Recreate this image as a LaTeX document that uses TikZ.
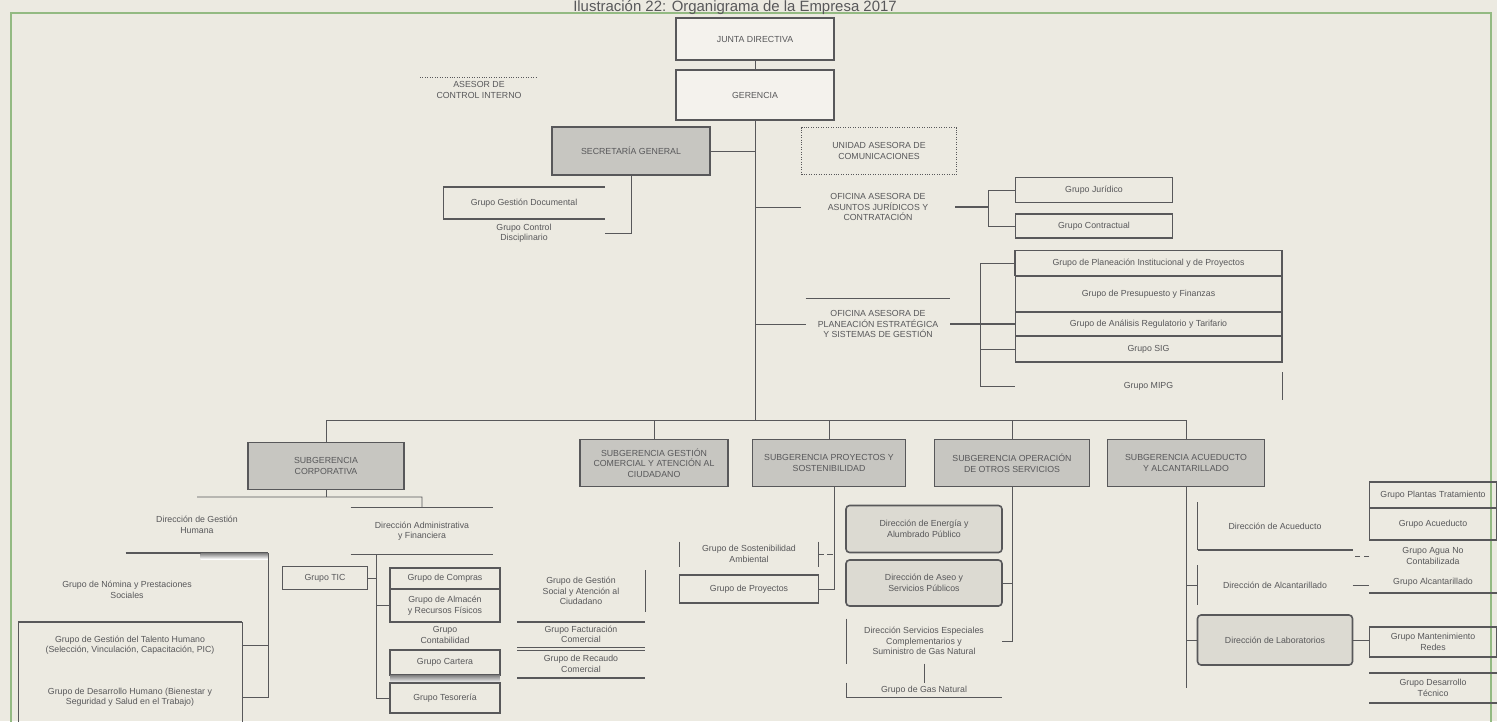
\documentclass[tikz,border=0pt]{standalone}
\usepackage{fontspec}
\setmainfont{Liberation Sans}
\usetikzlibrary{positioning,calc}
\definecolor{paper}{HTML}{ECEAE1}
\definecolor{ink}{HTML}{58585A}
\definecolor{shade}{HTML}{C7C6C1}
\definecolor{frame}{HTML}{93BA82}
\tikzset{
  lbl/.style={font=\fontsize{5}{6}\selectfont, text=ink, align=center, inner sep=0pt, outer sep=0pt},
  box/.style={lbl, draw=ink, line width=0.6pt},
  hdr/.style={box, fill=shade, line width=0.8pt},
  topbox/.style={box, fill=paper!60!white, line width=0.9pt},
  dir/.style={box, rounded corners=2pt, line width=0.9pt, fill=paper!85!gray},
  ln/.style={draw=ink, line width=0.5pt},
  tk/.style={draw=ink, line width=1pt},
}

\begin{document}
\begin{tikzpicture}[x=0.02cm, y=-0.02cm]
\useasboundingbox (0,0) rectangle (1497,721);
\clip (0,0) rectangle (1497,721);
\fill[paper] (0,0) rectangle (1497,721);
\draw[frame, line width=1.2pt] (11,13) rectangle (1491,740);
\node[lbl, font=\fontsize{8.5}{10}\selectfont, anchor=base] (ttl) at (735,11) {Ilustración 22: Organigrama de la Empresa 2017};

% direccion
\node[topbox, minimum width=3.16cm, minimum height=0.84cm] (jd) at (755,39) {JUNTA DIRECTIVA};
\node[topbox, minimum width=3.16cm, minimum height=1cm, line width=1.1pt] (ger) at (755,95) {GERENCIA};
\draw[ln] (jd) -- (ger);
\node[lbl, minimum width=2.36cm, minimum height=0.5cm] (ci) at (479,90) {ASESOR DE\\CONTROL INTERNO};
\draw[ink, densely dotted] (ci.north west) -- (ci.north east);
\coordinate (bus) at (755,420);
\draw[ln] (ger) -- (bus);

% secretaria y oficinas asesoras
\node[hdr, minimum width=3.16cm, minimum height=0.96cm] (sg) at (631,151) {SECRETARÍA GENERAL};
\draw[ln] (sg.east) -- (sg.east -| ger.south);
\node[lbl, minimum width=3.1cm, minimum height=0.94cm, draw=ink, densely dotted] (com) at (879,151) {UNIDAD ASESORA DE\\COMUNICACIONES};
\node[lbl, minimum width=3.24cm, minimum height=0.64cm] (gd) at (524,203) {Grupo Gestión Documental};
\draw[tk] (gd.north west) -- (gd.north east);
\draw[tk] (gd.south west) -- (gd.south east);
\draw[ln] (gd.north west) -- (gd.south west);
\node[lbl, minimum width=3.24cm, minimum height=0.4cm] (cd) at (524,233) {Grupo Control\\Disciplinario};
\draw[ln] (sg.south) |- (cd.east);

\node[lbl, minimum width=3.1cm, minimum height=0.7cm] (jur) at (878,207) {OFICINA ASESORA DE\\ASUNTOS JURÍDICOS Y\\CONTRATACIÓN};
\draw[ln] (jur.west) -- (jur.west -| ger.south);
\node[box, minimum width=3.14cm, minimum height=0.5cm] (jurA) at (1094,190) {Grupo Jurídico};
\node[box, minimum width=3.14cm, minimum height=0.48cm] (jurB) at (1094,226) {Grupo Contractual};
\coordinate (jbr) at (988,207);
\draw[tk] (jur.east) -- (jbr);
\draw[ln] (jurA.west) -| (jbr) |- (jurB.west);

\node[lbl, minimum width=2.9cm, minimum height=1.04cm] (pla) at (878,324) {OFICINA ASESORA DE\\PLANEACIÓN ESTRATÉGICA\\Y SISTEMAS DE GESTIÓN};
\draw[ln] (pla.north west) -- (pla.north east);
\draw[ln] (pla.west) -- (pla.west -| ger.south);
\node[box, minimum width=5.34cm, minimum height=0.5cm, line width=1pt] (p1) at (1148.5,263) {Grupo de Planeación Institucional y de Proyectos};
\node[box, minimum width=5.34cm, minimum height=0.72cm] (p2) at (1148.5,294) {Grupo de Presupuesto y Finanzas};
\node[box, minimum width=5.34cm, minimum height=0.48cm] (p3) at (1148.5,324) {Grupo de Análisis Regulatorio y Tarifario};
\node[box, minimum width=5.34cm, minimum height=0.52cm] (p4) at (1148.5,349) {Grupo SIG};
\node[lbl, minimum width=5.34cm, minimum height=0.56cm] (p5) at (1148.5,386) {Grupo MIPG};
\draw[ln] (p5.north east) -- (p5.south east);
\coordinate (pbr) at (980,324);
\draw[tk] (pla.east) -- (p3.west);
\draw[ln] (p1.west) -| (pbr) |- (p5.west);
\draw[ln] (p4.west) -- (p4.west -| pbr);

% subgerencias
\coordinate (busL) at (326,420);
\coordinate (busR) at (1186,420);
\draw[ln] (busL) -- (busR);
\node[hdr, minimum width=3.12cm, minimum height=0.94cm] (corp) at (326,466) {SUBGERENCIA\\CORPORATIVA};
\node[hdr, minimum width=2.96cm, minimum height=0.94cm] (comr) at (654,463) {SUBGERENCIA GESTIÓN\\COMERCIAL Y ATENCIÓN AL\\CIUDADANO};
\node[hdr, minimum width=3.06cm, minimum height=0.94cm] (proy) at (829,463) {SUBGERENCIA PROYECTOS Y\\SOSTENIBILIDAD};
\node[hdr, minimum width=3.1cm, minimum height=0.94cm] (oper) at (1012,463) {SUBGERENCIA OPERACIÓN\\DE OTROS SERVICIOS};
\node[hdr, minimum width=3.14cm, minimum height=0.94cm] (acu) at (1186,463) {SUBGERENCIA ACUEDUCTO\\Y ALCANTARILLADO};
\foreach \s in {corp,comr,proy,oper,acu}
  \draw[ln] (\s.north) -- (\s.north |- bus);

% corporativa
\node[lbl, minimum width=2.86cm, minimum height=1.12cm] (gh) at (197,525) {Dirección de Gestión\\Humana};
\draw[tk] (gh.south west) -- (gh.south east);
\fill[shade] ([xshift=-1.36cm]gh.south east) rectangle ([yshift=-0.12cm]gh.south east);
\node[lbl, minimum width=2.86cm, minimum height=0.94cm] (adm) at (422,531) {Dirección Administrativa\\y Financiera};
\draw[ln] (adm.north west) -- (adm.north east);
\draw[tk] (adm.south west) -- (adm.south east);
\coordinate (cj) at (326,497);
\draw[ln] (corp.south) -- (cj);
\draw[ln] (gh.north) -- (cj) -| (adm.north);

\node[lbl] (nom) at (127,590) {Grupo de Nómina y Prestaciones\\Sociales};
\node[lbl, minimum width=4.48cm, minimum height=0.92cm] (gt) at (130,645) {Grupo de Gestión del Talento Humano\\(Selección, Vinculación, Capacitación, PIC)};
\node[lbl, minimum width=4.48cm, minimum height=1.16cm] (dh) at (130,697) {Grupo de Desarrollo Humano (Bienestar y\\Seguridad y Salud en el Trabajo)};
\draw[ln] (gt.north west) rectangle (dh.south east);
\draw[tk] (gt.north west) -- (gt.north east);
\draw[ln] (gh.south east) |- (dh.east);
\draw[ln] (gt.east) -- (gt.east -| gh.south east);

\coordinate (av) at (376,555);
\node[box, minimum width=1.7cm, minimum height=0.46cm] (tic) at (325,578) {Grupo TIC};
\node[box, minimum width=2.2cm, minimum height=0.42cm] (gcomp) at (445,578.5) {Grupo de Compras};
\node[box, minimum width=2.2cm, minimum height=0.66cm] (alm) at (445,605.5) {Grupo de Almacén\\y Recursos Físicos};
\node[lbl, minimum width=2.2cm, minimum height=0.52cm] (cont) at (445,635) {Grupo\\Contabilidad};
\node[box, minimum width=2.2cm, minimum height=0.5cm] (cart) at (445,662.5) {Grupo Cartera};
\fill[shade] (cart.south west) rectangle ([yshift=-0.16cm]cart.south east);
\node[box, minimum width=2.2cm, minimum height=0.6cm] (tes) at (445,698) {Grupo Tesorería};
\draw[ln] (av) |- (tes.west);
\draw[ln] (alm.west) -- (alm.west -| av);
\draw[ln] (tic.east) -- (tic.east -| av);

% comercial
\node[lbl, minimum width=2.56cm, minimum height=0.84cm] (gsoc) at (581,591) {Grupo de Gestión\\Social y Atención al\\Ciudadano};
\draw[ln] (gsoc.north east) -- (gsoc.south east);
\node[lbl, minimum width=2.56cm, minimum height=0.5cm] (fac) at (581,634.5) {Grupo Facturación\\Comercial};
\node[lbl, minimum width=2.56cm, minimum height=0.56cm] (rec) at (581,664) {Grupo de Recaudo\\Comercial};
\draw[tk] (fac.north west) -- (fac.north east);
\draw[ln] (fac.south west) -- (fac.south east);
\draw[ln] (rec.north west) -- (rec.north east);
\draw[tk] (rec.south west) -- (rec.south east);

% proyectos
\node[lbl, minimum width=2.78cm, minimum height=0.5cm] (sost) at (749,554) {Grupo de Sostenibilidad\\Ambiental};
\draw[ln] (sost.north west) -- (sost.south west);
\draw[ln] (sost.north east) -- (sost.south east);
\node[box, minimum width=2.78cm, minimum height=0.56cm] (gpro) at (749,589) {Grupo de Proyectos};
\coordinate (pv) at (834,487);
\draw[ln] (pv) |- (gpro.east);
\draw[ln, densely dashed] (sost.east) -- (sost.east -| pv);

% operacion
\node[dir, minimum width=3.12cm, minimum height=0.94cm] (ener) at (924,529) {Dirección de Energía y\\Alumbrado Público};
\node[dir, minimum width=3.12cm, minimum height=0.92cm] (aseo) at (924,583) {Dirección de Aseo y\\Servicios Públicos};
\node[lbl, minimum width=3.12cm, minimum height=0.9cm] (serv) at (924,641) {Dirección Servicios Especiales\\Complementarios y\\Suministro de Gas Natural};
\draw[ln] (serv.north west) -- (serv.south west);
\node[lbl, minimum width=3.12cm, minimum height=0.3cm] (gas) at (924,690) {Grupo de Gas Natural};
\draw[ln] (gas.north west) -- (gas.south west) -- (gas.south east);
\draw[ln] (serv.south) -- (gas.north);
\draw[ln] (oper.south) |- (serv.east);
\draw[ln] (aseo.east) -- (aseo.east -| oper.south);

% acueducto
\node[lbl, minimum width=3.1cm, minimum height=0.96cm] (dacu) at (1275,526) {Dirección de Acueducto};
\draw[ln] (dacu.north west) -- (dacu.south west);
\draw[tk] (dacu.south west) -- (dacu.south east);
\node[lbl, minimum width=3.1cm, minimum height=0.8cm] (dalc) at (1275,585) {Dirección de Alcantarillado};
\draw[ln] (dalc.north west) -- (dalc.south west);
\node[dir, minimum width=3.1cm, minimum height=1cm] (dlab) at (1275,640) {Dirección de Laboratorios};
\node[box, minimum width=2.56cm, minimum height=0.52cm] (gpt) at (1433,495) {Grupo Plantas Tratamiento};
\node[box, minimum width=2.56cm, minimum height=0.64cm] (gac) at (1433,524) {Grupo Acueducto};
\node[lbl, minimum width=2.56cm, minimum height=0.64cm] (gan) at (1433,556) {Grupo Agua No\\Contabilizada};
\node[lbl, minimum width=2.56cm, minimum height=0.42cm] (gal) at (1433,582.5) {Grupo Alcantarillado};
\draw[tk] (gal.south west) -- (gal.south east);
\node[box, minimum width=2.56cm, minimum height=0.6cm] (gmr) at (1433,642) {Grupo Mantenimiento\\Redes};
\node[lbl, minimum width=2.56cm, minimum height=0.6cm] (gdt) at (1433,688) {Grupo Desarrollo\\Técnico};
\draw[tk] (gdt.north west) -- (gdt.north east);
\draw[tk] (gdt.south west) -- (gdt.south east);
\draw[ln] (acu.south) -- (acu.south |- gdt.west);
\draw[ln] (dalc.west) -- (dalc.west -| acu.south);
\draw[ln] (dlab.west) -- (dlab.west -| acu.south);
\draw[ln, densely dashed] (gan.west) -- (gan.west -| dacu.east);
\draw[ln] (dalc.east) -- (dalc.east -| gal.west);
\draw[ln] (dlab.east) -- (dlab.east -| gmr.west);
\end{tikzpicture}
\end{document}
